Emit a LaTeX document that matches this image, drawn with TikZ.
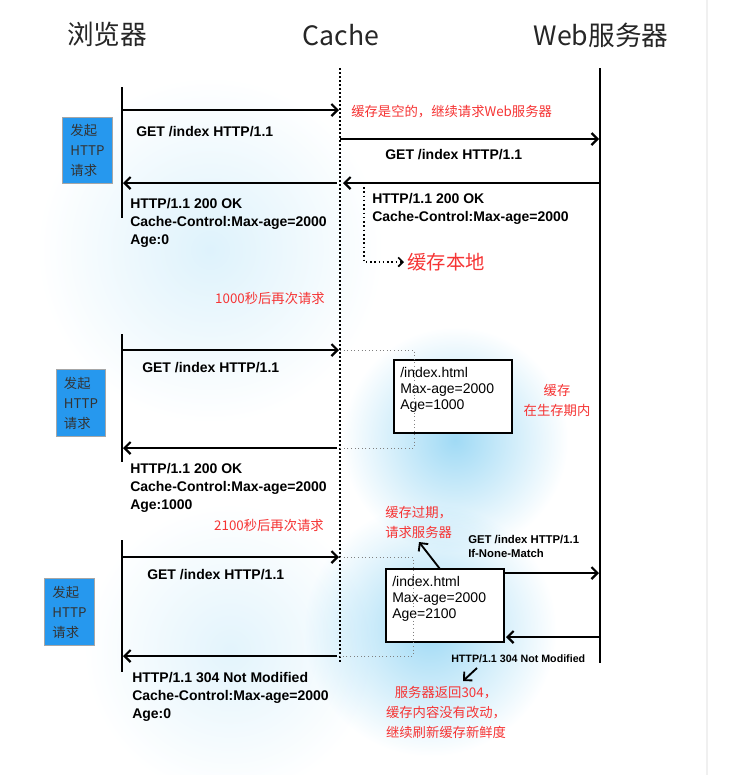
\documentclass[tikz,border=0pt]{standalone}
\usepackage{fontspec}
\setmainfont{Liberation Sans}
\newfontfamily\cjk{Noto Sans CJK SC}
\usetikzlibrary{arrows.meta,fit}
\definecolor{hired}{RGB}{246,52,52}
\definecolor{reqblue}{RGB}{38,152,238}
\definecolor{glow}{RGB}{160,218,245}

\begin{document}
\begin{tikzpicture}[x=0.75pt,y=-0.75pt,
  title/.style={font=\cjk\fontsize{20}{24}\selectfont, text=black!85},
  life/.style={line width=1.5pt},
  cacheline/.style={line width=1.4pt, dash pattern=on 1.2pt off 1.8pt},
  msg/.style={line width=1.6pt, -{Straight Barb[length=4.5pt,width=9pt]}},
  lbl/.style={font=\bfseries\fontsize{10.5}{13.5}\selectfont, anchor=west, align=left, inner sep=0},
  small/.style={font=\bfseries\fontsize{8.5}{10.5}\selectfont, anchor=west, align=left, inner sep=0},
  note/.style={font=\cjk\fontsize{10}{15}\selectfont, text=hired, inner sep=0},
  reqbox/.style={fill=reqblue, draw=gray!70, line width=0.6pt, minimum width=37pt, minimum height=50pt,
    font=\cjk\fontsize{10}{15}\selectfont, text=black!80, align=left, inner sep=0},
  cachebox/.style={draw, fill=white, line width=1.2pt, inner sep=0},
  boxtxt/.style={font=\fontsize{10.5}{12}\selectfont, anchor=north west, align=left, inner sep=0},
  dotrect/.style={gray, line width=0.7pt, dotted}]

\useasboundingbox (0,0) rectangle (732,775);
\fill[white] (0,0) rectangle (732,775);
% soft blue background
\begin{scope}[blend mode=multiply]
\shade[inner color=glow!35, outer color=white] (210,250) circle (130pt);
\shade[inner color=glow!30, outer color=white] (230,650) circle (110pt);
\shade[inner color=glow, outer color=white] (455,440) circle (85pt);
\shade[inner color=glow, outer color=white] (430,630) circle (95pt);
\end{scope}
\draw[gray!12, line width=0.8pt] (707,0) -- (707,775);

% titles
\node[title] (tBrowser) at (107,34) {浏览器};
\node[title] (tCache) at (341,35) {Cache};
\node[title] (tServer) at (601,35) {Web服务器};

% lifelines
\coordinate (c0) at (340,68);
\coordinate (c1) at (340,663);
\draw[cacheline] (c0) -- (c1);
\coordinate (s0) at (600,68);
\coordinate (s1) at (600,663);
\draw[life] (s0) -- (s1);

% ---- first request
\coordinate (b1t) at (122,87);
\coordinate (b1b) at (122,218);
\draw[life] (b1t) -- (b1b);
\node[reqbox] (req1) at (87.5,150.5) {发起\\HTTP\\请求};
\coordinate (a1s) at (122,110);
\coordinate (a1e) at (339,110);
\draw[msg] (a1s) -- (a1e);
\node[lbl] (get1) at (136,132) {GET /index HTTP/1.1};
\node[note, anchor=west] (empty) at (351,112) {缓存是空的，继续请求Web服务器};
\coordinate (a2s) at (340,139);
\coordinate (a2e) at (599,139);
\draw[msg] (a2s) -- (a2e);
\node[lbl] (get1b) at (385,155) {GET /index HTTP/1.1};
\coordinate (a3s) at (600,183);
\coordinate (a3e) at (343,183);
\draw[msg] (a3s) -- (a3e);
\coordinate (a4s) at (337,183);
\coordinate (a4e) at (123,183);
\draw[msg] (a4s) -- (a4e);
\node[lbl] (resp1) at (130,223) {HTTP/1.1 200 OK\\Cache-Control:Max-age=2000\\Age:0};
\node[lbl] (resp1b) at (372,209) {HTTP/1.1 200 OK\\Cache-Control:Max-age=2000};
\node[note, anchor=west, inner sep=2.5pt, font=\cjk\fontsize{14.5}{16}\selectfont] (local) at (404,262) {缓存本地};
\coordinate (st0) at (364,187);
\draw[line width=1.2pt, dotted, -{Straight Barb[length=3.5pt,width=7pt]}] (st0) |- (local.west);

% ---- after 1000 s
\node[note] (t1000) at (270,298) {1000秒后再次请求};
\coordinate (b2t) at (122,334);
\coordinate (b2b) at (122,462);
\draw[life] (b2t) -- (b2b);
\node[reqbox] (req2) at (81,403) {发起\\HTTP\\请求};
\coordinate (a5s) at (122,350);
\coordinate (a5e) at (339,350);
\draw[msg] (a5s) -- (a5e);
\node[lbl] (get2) at (142,368) {GET /index HTTP/1.1};
\coordinate (k2a) at (394,360);
\coordinate (k2b) at (512,433);
\node[cachebox, fit=(k2a)(k2b)] (box2) {};
\node[boxtxt] (box2txt) at (400,367) {/index.html\\Max-age=2000\\Age=1000};
\coordinate (d2a) at (340,350);
\coordinate (d2b) at (414,448);
\draw[dotrect] (d2a) -| (d2b) -- (d2b -| d2a);
\node[note, align=center] (fresh) at (557,400) {缓存\\在生存期内};
\coordinate (a6s) at (337,448);
\coordinate (a6e) at (123,448);
\draw[msg] (a6s) -- (a6e);
\node[lbl] (resp2) at (130,488) {HTTP/1.1 200 OK\\Cache-Control:Max-age=2000\\Age:1000};

% ---- after 2100 s
\node[note] (t2100) at (269,525) {2100秒后再次请求};
\node[note, anchor=west, align=left] (stale) at (385,522) {缓存过期，\\请求服务器};
\coordinate (b3t) at (122,540);
\coordinate (b3b) at (122,672);
\draw[life] (b3t) -- (b3b);
\node[reqbox] (req3) at (69.5,612) {发起\\HTTP\\请求};
\coordinate (a7s) at (122,557);
\coordinate (a7e) at (339,557);
\draw[msg] (a7s) -- (a7e);
\node[lbl] (get3) at (147,575) {GET /index HTTP/1.1};
\coordinate (k3a) at (386,569);
\coordinate (k3b) at (504,642);
\node[cachebox, fit=(k3a)(k3b)] (box3) {};
\node[boxtxt] (box3txt) at (392,576) {/index.html\\Max-age=2000\\Age=2100};
\coordinate (d3a) at (340,557);
\coordinate (d3b) at (413,656);
\draw[dotrect] (d3a) -| (d3b) -- (d3b -| d3a);
\coordinate (up0) at (440,569);
\coordinate (up1) at (419,542);
\draw[msg, line width=1.4pt] (up0) -- (up1);
\node[small] (get3b) at (468,546) {GET /index HTTP/1.1\\If-None-Match};
\coordinate (a8s) at (505,573);
\coordinate (a8e) at (599,573);
\draw[msg] (a8s) -- (a8e);
\coordinate (a9s) at (600,637);
\coordinate (a9e) at (506,637);
\draw[msg] (a9s) -- (a9e);
\node[small, font=\bfseries\fontsize{8}{10}\selectfont] (n304) at (451,659) {HTTP/1.1 304 Not Modified};
\coordinate (dn0) at (477,668);
\coordinate (dn1) at (463,681);
\draw[msg, line width=1.4pt] (dn0) -- (dn1);
\node[note, align=center] (renew) at (446,712) {服务器返回304，\\缓存内容没有改动，\\继续刷新缓存新鲜度};
\coordinate (a10s) at (337,656);
\coordinate (a10e) at (123,656);
\draw[msg] (a10s) -- (a10e);
\node[lbl] (resp3) at (132,697) {HTTP/1.1 304 Not Modified\\Cache-Control:Max-age=2000\\Age:0};
\end{tikzpicture}
\end{document}
